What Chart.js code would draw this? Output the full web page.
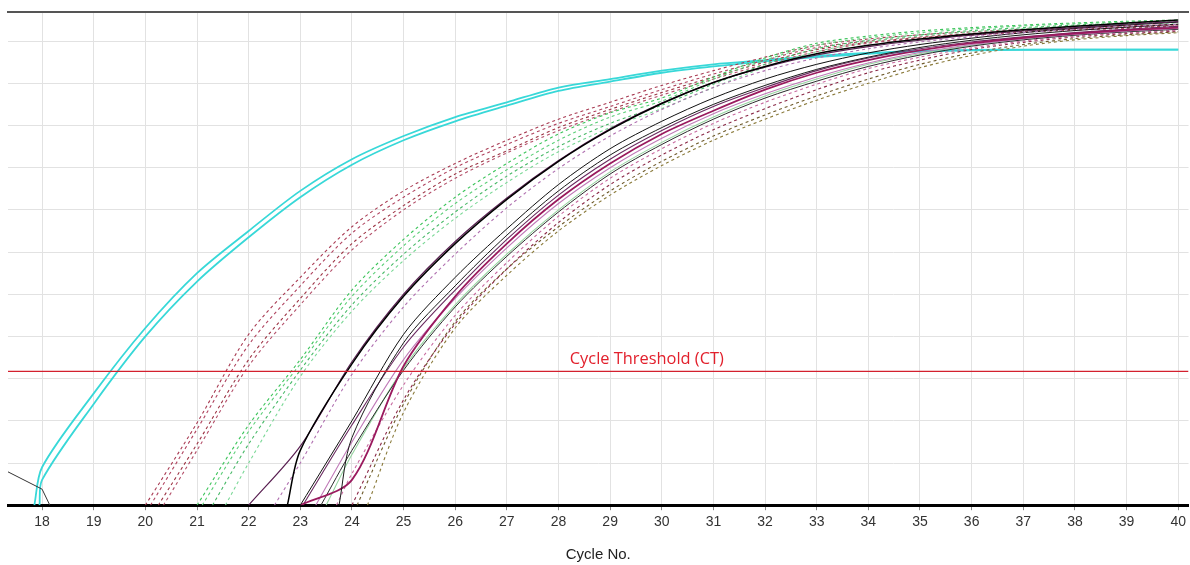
<!DOCTYPE html>
<html><head><meta charset="utf-8">
<script src="https://cdn.jsdelivr.net/npm/chart.js@4.4.0/dist/chart.umd.min.js"></script>
<style>html,body{margin:0;padding:0;background:#fff;overflow:hidden}</style>
</head><body>
<canvas id="c" width="1190" height="565"></canvas>
<script>
// ---- data (cycle numbers and fluorescence in grid units) ----
const CYCLES = [18,19,20,21,22,23,24,25,26,27,28,29,30,31,32,33,34,35,36,37,38,39,40];
const Y_GRID = [1,2,3,4,5,6,7,8,9,10,11];
const THRESHOLD = 3.17;
const THRESHOLD_LABEL = 'Cycle Threshold (CT)';
const X_TITLE = 'Cycle No.';

const cyanA = [0.9,2.65,4.2,5.5,6.5,7.45,8.2,8.75,9.2,9.55,9.9,10.1,10.3,10.45,10.55,10.65,10.72,10.77,10.79,10.8,10.8,10.8,10.8];
const cyanB = [0.6,2.4,4.0,5.3,6.35,7.3,8.07,8.65,9.1,9.47,9.82,10.04,10.25,10.4,10.52,10.62,10.7,10.75,10.78,10.79,10.8,10.8,10.8];
const red1 = [null,null,null,1.95,4.05,5.4,6.6,7.45,8.1,8.65,9.15,9.55,9.95,10.3,10.62,10.9,11.05,11.15,11.22,11.28,11.32,11.36,11.4];
const red2 = [null,null,null,1.8,3.8,5.2,6.45,7.3,8.0,8.55,9.05,9.45,9.85,10.22,10.55,10.85,11.0,11.1,11.18,11.25,11.3,11.34,11.38];
const red3 = [null,null,null,1.45,3.45,4.9,6.2,7.1,7.85,8.4,8.95,9.38,9.78,10.15,10.5,10.8,10.97,11.08,11.16,11.23,11.28,11.32,11.36];
const red4 = [null,null,null,1.3,3.3,4.75,6.05,7.0,7.75,8.35,8.88,9.32,9.72,10.1,10.45,10.75,10.95,11.06,11.14,11.21,11.26,11.3,11.34];
const green1 = [null,null,null,null,1.9,3.45,5.1,6.3,7.3,8.1,8.8,9.3,9.65,10.15,10.6,10.95,11.12,11.24,11.32,11.38,11.43,11.47,11.5];
const green2 = [null,null,null,null,1.75,3.35,4.95,6.15,7.15,7.95,8.65,9.2,9.58,10.1,10.55,10.9,11.08,11.2,11.29,11.36,11.41,11.45,11.48];
const green3 = [null,null,null,null,1.45,3.2,4.75,5.95,6.95,7.8,8.5,9.05,9.48,9.98,10.45,10.82,11.02,11.15,11.25,11.32,11.38,11.42,11.45];
const green4 = [null,null,null,null,1.0,3.05,4.6,5.8,6.8,7.65,8.38,8.95,9.4,9.9,10.38,10.75,10.98,11.12,11.22,11.3,11.36,11.4,11.43];
const black1 = [null,null,null,null,null,1.3,3.35,4.95,6.2,7.25,8.15,8.9,9.52,10.02,10.4,10.7,10.9,11.05,11.17,11.27,11.35,11.43,11.5];
const purple1 = [null,null,null,null,null,1.4,3.4,5.0,6.25,7.28,8.17,8.92,9.53,10.02,10.38,10.67,10.87,11.02,11.14,11.24,11.32,11.4,11.46];
const purpleDash1 = [null,null,null,null,null,1.0,3.1,4.7,5.95,7.05,7.98,8.75,9.38,9.9,10.3,10.6,10.82,10.98,11.1,11.2,11.28,11.35,11.4];
const black2 = [null,null,null,null,null,null,2.0,4.05,5.4,6.55,7.6,8.45,9.1,9.65,10.1,10.45,10.72,10.92,11.07,11.2,11.3,11.38,11.45];
const black3 = [null,null,null,null,null,null,1.6,3.85,5.2,6.4,7.45,8.3,8.95,9.5,9.95,10.33,10.62,10.85,11.02,11.15,11.25,11.33,11.4];
const magenta1 = [null,null,null,null,null,null,0.6,3.3,4.95,6.2,7.25,8.1,8.8,9.35,9.85,10.25,10.55,10.78,10.95,11.08,11.18,11.26,11.32];
const purple2 = [null,null,null,null,null,null,1.9,3.75,5.1,6.3,7.35,8.2,8.88,9.45,9.9,10.3,10.6,10.82,10.98,11.1,11.2,11.28,11.35];
const pink1 = [null,null,null,null,null,null,1.5,3.45,4.9,6.1,7.15,8.0,8.7,9.28,9.75,10.15,10.48,10.73,10.92,11.06,11.16,11.24,11.3];
const lightGreen1 = [null,null,null,null,null,null,1.2,3.25,4.75,5.95,7.0,7.9,8.6,9.2,9.7,10.1,10.45,10.7,10.9,11.05,11.15,11.23,11.3];
const black4 = [null,null,null,null,null,null,1.3,3.2,4.7,5.9,6.95,7.85,8.55,9.15,9.65,10.05,10.4,10.67,10.88,11.03,11.14,11.22,11.28];
const pinkDash1 = [null,null,null,null,null,null,0.75,2.85,4.5,5.75,6.85,7.75,8.45,9.05,9.55,9.98,10.35,10.62,10.84,11.0,11.12,11.2,11.26];
const darkRedDash1 = [null,null,null,null,null,null,null,2.5,4.3,5.6,6.7,7.6,8.3,8.9,9.4,9.85,10.25,10.55,10.8,10.97,11.1,11.18,11.24];
const oliveDash1 = [null,null,null,null,null,null,null,2.4,4.35,5.6,6.6,7.45,8.15,8.75,9.25,9.7,10.1,10.45,10.72,10.92,11.06,11.15,11.22];
const oliveDash2 = [null,null,null,null,null,null,null,2.2,4.2,5.45,6.5,7.35,8.05,8.65,9.15,9.6,10.0,10.37,10.66,10.88,11.03,11.13,11.2];
// cycle at which each curve leaves the baseline
const ONSETS = {cyanA:17.85,cyanB:17.95,red1:20.0,red2:20.1,red3:20.25,red4:20.35,
  green1:21.0,green2:21.1,green3:21.3,green4:21.55,black1:22.75,purple1:22.0,purpleDash1:22.5,
  black2:23.0,black3:23.75,magenta1:23.0,purple2:23.05,pink1:23.3,lightGreen1:23.5,black4:23.4,
  pinkDash1:23.7,darkRedDash1:24.0,oliveDash1:24.1,oliveDash2:24.3};
// small drifting trace at the left edge
const driftX = [17.34,18,18.15];
const driftY = [0.79,0.38,0];

// ---- styles ----
const SERIES = [
  ['cyanA',cyanA,'#38d8d8',1.8,[]],['cyanB',cyanB,'#38d8d8',1.8,[]],
  ['red1',red1,'#a83a52',1.1,[3,3]],['red2',red2,'#b04460',1.1,[3,3]],['red3',red3,'#9c3444',1.1,[3,3]],['red4',red4,'#b4506a',1.1,[3,3]],
  ['green1',green1,'#3cc45a',1.1,[3,3]],['green2',green2,'#5ccf78',1.1,[3,3]],['green3',green3,'#46b866',1.1,[3,3]],['green4',green4,'#7ad896',1.1,[3,3]],
  ['oliveDash2',oliveDash2,'#8a7a3a',1.1,[3,3]],['oliveDash1',oliveDash1,'#6e5a2a',1.1,[3,3]],['darkRedDash1',darkRedDash1,'#8b2a48',1.1,[3,3]],
  ['pinkDash1',pinkDash1,'#c86aa0',1.1,[3,3]],['lightGreen1',lightGreen1,'#96d4a0',1.1,[]],['black4',black4,'#2a2a2a',1,[]],
  ['pink1',pink1,'#c07ab8',1.1,[]],['purple2',purple2,'#6a2a60',1.1,[]],['magenta1',magenta1,'#9a1a5e',1.8,[]],
  ['black3',black3,'#1a1a1a',1,[]],['black2',black2,'#111111',1,[]],['purpleDash1',purpleDash1,'#b070b0',1.1,[3,3]],
  ['purple1',purple1,'#5a2052',1.2,[]],['black1',black1,'#000000',1.5,[]]
];

function toPoints(name, vals){
  const on = ONSETS[name];
  const pts = [{x:on,y:0}];
  CYCLES.forEach((c,i)=>{ if(vals[i]!==null && c>on) pts.push({x:c,y:vals[i]}); });
  return pts;
}

const datasets = [{
  label:'CT', data:[{x:17.34,y:THRESHOLD},{x:40.2,y:THRESHOLD}],
  borderColor:'#d3202e', borderWidth:1.2, pointRadius:0, tension:0
}];
datasets.push({label:'drift', data:driftX.map((x,i)=>({x,y:driftY[i]})), borderColor:'#333', borderWidth:1, pointRadius:0, tension:0});
SERIES.slice().reverse().forEach(([name,vals,color,w,dash])=>{
  datasets.push({label:name, data:toPoints(name,vals), borderColor:color, borderWidth:w,
    borderDash:dash, pointRadius:0, tension:0.3, fill:false});
});

const labelPlugin = {
  id:'ctLabel',
  afterDatasetsDraw(chart){
    const {ctx, scales:{x,y}} = chart;
    ctx.save();
    ctx.font = '16.4px "Open Sans"';
    ctx.fillStyle = '#e2202c';
    ctx.textAlign = 'center';
    ctx.textBaseline = 'alphabetic';
    ctx.fillText(THRESHOLD_LABEL, x.getPixelForValue(29.71), y.getPixelForValue(THRESHOLD)-7);
    ctx.restore();
  }
};

new Chart(document.getElementById('c'), {
  type:'line',
  data:{datasets},
  options:{
    responsive:false, animation:false,
    layout:{padding:{left:8,top:12,right:0,bottom:0}},
    plugins:{legend:{display:false}, tooltip:{enabled:false}},
    scales:{
      x:{type:'linear', min:17.34, max:40.2,
        afterBuildTicks: ax => { ax.ticks = CYCLES.map(v=>({value:v})); },
        grid:{color:'#e2e2e2', lineWidth:1, tickLength:5, tickColor:'#888'},
        border:{color:'#000', width:3},
        ticks:{font:{family:'Liberation Sans', size:14}, color:'#333', padding:4, maxRotation:0, autoSkip:false, callback:v=>String(v)},
        title:{display:true, text:X_TITLE, font:{family:'Liberation Sans', size:15}, color:'#222', padding:{top:11,bottom:1}}
      },
      x2:{type:'linear', position:'top', min:17.34, max:40.2,
        ticks:{display:false}, grid:{display:false, drawTicks:false},
        border:{color:'#555', width:2}},
      y:{min:0, max:11.69,
        afterBuildTicks: ax => { ax.ticks = Y_GRID.map(v=>({value:v})); },
        ticks:{display:false}, grid:{color:'#e2e2e2', drawTicks:false}, border:{display:false}}
    }
  },
  plugins:[labelPlugin]
});
</script>
</body></html>
